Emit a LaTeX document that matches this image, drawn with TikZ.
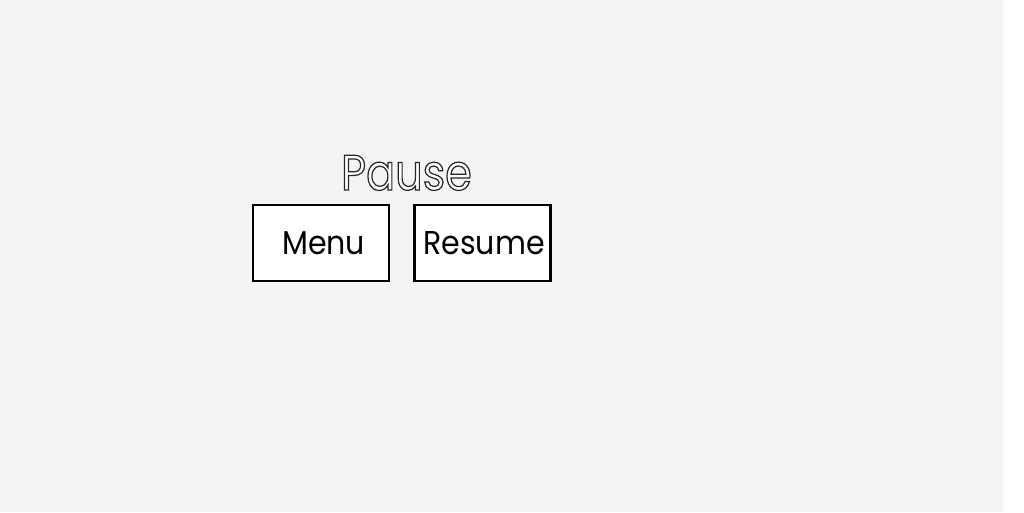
\documentclass[tikz,border=0pt]{standalone}
\usepackage{fontspec}
\setmainfont{Poppins}
\newfontfamily\btnfont[FakeStretch=0.91]{Poppins}
\newfontfamily\ttlfont[FakeStretch=0.86]{Poppins}
\definecolor{bg}{HTML}{F4F4F4}
\newcommand{\outlinetext}[1]{{\color{white}\special{pdf:literal direct 2 Tr 1.2 w 0.15 G}#1\special{pdf:literal direct 0 Tr}}}
\begin{document}
\begin{tikzpicture}[x=1pt,y=-1pt,
  btn/.style={draw=black,line width=2.3pt,fill=white,minimum width=136pt,minimum height=76pt,inner sep=0pt},
  lbl/.style={inner sep=0pt,font=\btnfont\fontsize{33}{36}\selectfont},
  ttl/.style={inner sep=0pt,font=\ttlfont\fontsize{50}{56}\selectfont,anchor=base}]
\fill[white] (0,0) rectangle (1024,512);
\fill[bg] (0,0) rectangle (1003,512);
\useasboundingbox (0,0) rectangle (1024,512);
\node[btn] (menu) at (320.7,243.3) {};
\node[btn] (resume) at (482.5,243.3) {};
\node[lbl] (menulbl) at ([xshift=3pt]menu.center) {Menu};
\node[lbl] (resumelbl) at ([xshift=1.5pt]resume.center) {Resume};
\node[ttl] (pause) at (406.5,190) {\outlinetext{Pause}};
\end{tikzpicture}
\end{document}
